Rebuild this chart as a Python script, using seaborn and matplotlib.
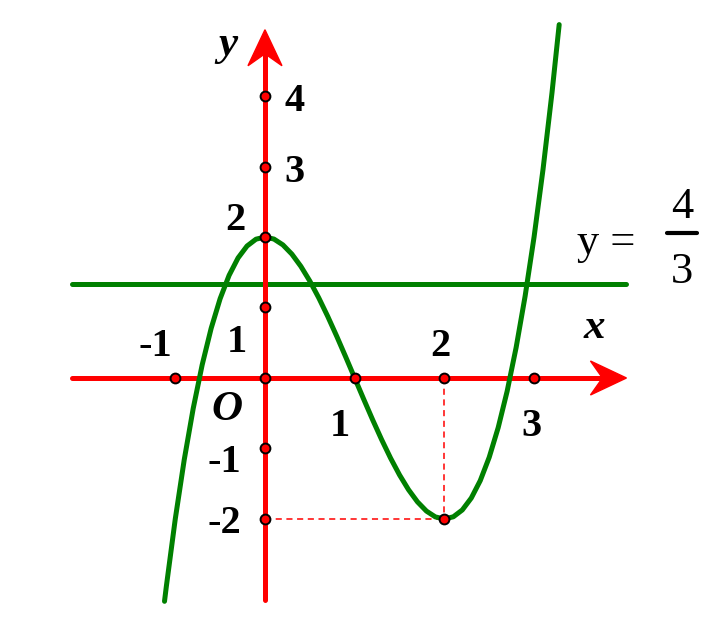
import numpy as np
import pandas as pd
import matplotlib
matplotlib.use("Agg")
import matplotlib.pyplot as plt
import seaborn as sns
from matplotlib.patches import Polygon

# Curve points (y = x^3 - 3x^2 + 2)
curve_x = [-1.12, -1.1, -1.0, -0.9, -0.8, -0.7, -0.6, -0.5, -0.4, -0.3, -0.2, -0.1, 0.0,
           0.1, 0.2, 0.3, 0.4, 0.5, 0.6, 0.7, 0.8, 0.9, 1.0, 1.1, 1.2, 1.3, 1.4, 1.5,
           1.6, 1.7, 1.8, 1.9, 2.0, 2.1, 2.2, 2.3, 2.4, 2.5, 2.6, 2.7, 2.8, 2.9, 3.0,
           3.1, 3.2, 3.28]
curve_y = [-3.168, -2.961, -2.0, -1.159, -0.432, 0.187, 0.704, 1.125, 1.456, 1.703, 1.872,
           1.969, 2.0, 1.971, 1.888, 1.757, 1.584, 1.375, 1.136, 0.873, 0.592, 0.299, 0.0,
           -0.299, -0.592, -0.873, -1.136, -1.375, -1.584, -1.757, -1.888, -1.971, -2.0,
           -1.969, -1.872, -1.703, -1.456, -1.125, -0.704, -0.187, 0.432, 1.159, 2.0,
           2.961, 4.048, 5.013]

hline_y = 4 / 3
xaxis_ticks = [-1, 1, 2, 3]
xaxis_labels = ["-1", "1", "2", "3"]
yaxis_ticks = [4, 3, 2, 1, -1, -2]
yaxis_labels = ["4", "3", "2", "1", "-1", "-2"]

RED = "#ff0000"
GREEN = "#008000"

sns.set_theme(style="white")
plt.rcParams["font.family"] = ["Liberation Serif", "DejaVu Serif"]

fig = plt.figure(figsize=(7.21, 6.25), dpi=100)
ax = fig.add_axes([0, 0, 1, 1])
ax.set_xlim(-2.954, 5.084)
ax.set_ylim(-3.504, 5.362)
ax.axis("off")

# horizontal line y = 4/3
df_h = pd.DataFrame({"x": [-2.15, 4.03], "y": [hline_y, hline_y]})
sns.lineplot(data=df_h, x="x", y="y", ax=ax, color=GREEN, linewidth=3.6,
             estimator=None, sort=False, zorder=2)

# axes (red) with arrowheads
df_xa = pd.DataFrame({"x": [-2.15, 3.95], "y": [0, 0]})
sns.lineplot(data=df_xa, x="x", y="y", ax=ax, color=RED, linewidth=3.6,
             estimator=None, sort=False, zorder=3)
df_ya = pd.DataFrame({"x": [0, 0], "y": [-3.15, 4.85]})
sns.lineplot(data=df_ya, x="x", y="y", ax=ax, color=RED, linewidth=3.6,
             estimator=None, sort=False, zorder=3)

# arrowheads (stealth shape) in pixel-equivalent data units
sx = 1 / 89.7
sy = 1 / 70.5
tip_x = 4.03
ax.add_patch(Polygon([(tip_x, 0), (tip_x - 36 * sx, 17 * sy), (tip_x - 24 * sx, 0),
                      (tip_x - 36 * sx, -17 * sy)], closed=True, color=RED, zorder=4))
tip_y = 4.94
ax.add_patch(Polygon([(0, tip_y), (17 * sx, tip_y - 36 * sy), (0, tip_y - 24 * sy),
                      (-17 * sx, tip_y - 36 * sy)], closed=True, color=RED, zorder=4))

# dashed guides
ax.plot([2, 2], [0, -2], color=RED, linestyle=(0, (4, 3)), linewidth=1.1, zorder=3)
ax.plot([0, 2], [-2, -2], color=RED, linestyle=(0, (4, 3)), linewidth=1.1, zorder=3)

# curve
df_c = pd.DataFrame({"x": curve_x, "y": curve_y})
sns.lineplot(data=df_c, x="x", y="y", ax=ax, color=GREEN, linewidth=3.6, sort=False,
             estimator=None, zorder=5)

# markers
mx = xaxis_ticks + [0] + [0] * len(yaxis_ticks) + [2]
my = [0] * len(xaxis_ticks) + [0] + yaxis_ticks + [-2]
ax.scatter(mx, my, s=50, facecolor=RED, edgecolor="black", linewidth=1.4, zorder=6)

ax.set_xlabel("")
ax.set_ylabel("")

bold = dict(fontsize=29, fontweight="bold", color="black", ha="center", va="center")

# x tick labels
ax.text(-1.22, 0.45, "-1", **bold)
ax.text(0.84, -0.69, "1", **bold)
ax.text(1.95, 0.45, "2", **bold)
ax.text(2.97, -0.69, "3", **bold)
# y tick labels
ax.text(0.33, 3.92, "4", **bold)
ax.text(0.33, 2.92, "3", **bold)
ax.text(-0.33, 2.23, "2", **bold)
ax.text(-0.31, 0.5, "1", **bold)
ax.text(-0.45, -1.2, "-1", **bold)
ax.text(-0.45, -2.07, "-2", **bold)

# axis names and origin
ital = dict(fontsize=31, fontweight="bold", fontstyle="italic", color="black",
            ha="center", va="center")
ax.text(-0.41, 4.72, "y", **ital)
ax.text(3.67, 0.71, "x", **ital)
ax.text(-0.42, -0.45, "O", **ital)

# y = 4/3 label
norm = dict(fontsize=32, color="black", ha="center", va="center")
ax.text(3.8, 1.92, "y =", **norm)
ax.text(4.65, 2.42, "4", **norm)
ax.text(4.65, 1.5, "3", **norm)
ax.plot([4.48, 4.82], [2.06, 2.06], color="black", linewidth=3, zorder=3)

fig.savefig("out.png", dpi=100)
